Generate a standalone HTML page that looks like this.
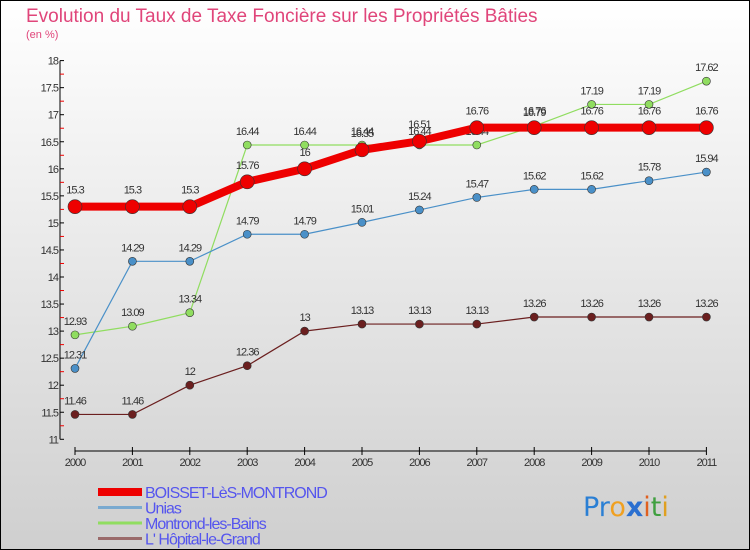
<!DOCTYPE html>
<html><head><meta charset="utf-8"><style>
body{margin:0}
#c{width:750px;height:550px;position:relative;overflow:hidden;font-family:"Liberation Sans",sans-serif;background:linear-gradient(#ffffff,#cfcfcf);box-sizing:border-box;border:1px solid #000}
</style></head><body>
<div id="c">
<svg id="s" width="750" height="550" style="position:absolute;left:-1px;top:-1px">
<text x="26" y="22" font-size="19" fill="#e0457a">Evolution du Taux de Taxe Foncière sur les Propriétés Bâties</text>
<text x="26" y="38" font-size="11" fill="#e0457a">(en %)</text>
<g id="axes"></g><g id="series"></g><g id="legend"></g>
<text x="583" y="516" font-size="27" font-family="'DejaVu Sans',sans-serif"><tspan fill="#2a7fd4">Pr</tspan><tspan fill="#f0a020">o</tspan><tspan fill="#2a6fd0" font-weight="bold">x</tspan><tspan fill="#e06020">i</tspan><tspan fill="#40a040">t</tspan><tspan fill="#e0a020">i</tspan></text>
</svg>
</div>
<script>
const years=[2000,2001,2002,2003,2004,2005,2006,2007,2008,2009,2010,2011];
const boisset=[15.3,15.3,15.3,15.76,16,16.35,16.51,16.76,16.76,16.76,16.76,16.76];
const unias=[12.31,14.29,14.29,14.79,14.79,15.01,15.24,15.47,15.62,15.62,15.78,15.94];
const montrond=[12.93,13.09,13.34,16.44,16.44,16.44,16.44,16.44,16.79,17.19,17.19,17.62];
const hopital=[11.46,11.46,12,12.36,13,13.13,13.13,13.13,13.26,13.26,13.26,13.26];
const yTicks=[11,11.5,12,12.5,13,13.5,14,14.5,15,15.5,16,16.5,17,17.5,18];
const seriesNames=["BOISSET-LèS-MONTROND","Unias","Montrond-les-Bains","L' Hôpital-le-Grand"];
const NS="http://www.w3.org/2000/svg";
const xS=i=>75+i*57.4;
const yS=v=>439.3-(v-11)*54.1;
function mk(p,t,a){const e=document.createElementNS(NS,t);for(const k in a)e.setAttribute(k,a[k]);p.appendChild(e);return e;}
const ax=document.getElementById('axes');
let l=mk(ax,'line',{x1:60,y1:yS(18),x2:60,y2:yS(11),stroke:'#000'});


yTicks.forEach(v=>{
 let t=mk(ax,'line',{x1:60,x2:64,y1:yS(v),y2:yS(v),stroke:'#000'});
 
 
 let m=mk(ax,'line',{x1:60,x2:64,y1:yS(v+0.25),y2:yS(v+0.25),stroke:'#e00'});
 if(v===18)m.remove();
 let tx=mk(ax,'text',{x:58,y:yS(v)+4,'font-size':11,'text-anchor':'end',fill:'#333','letter-spacing':'-1'});
 tx.textContent=String(v);
 
 
});
let xa=mk(ax,'line',{x1:xS(0),x2:xS(11),y1:451,y2:451,stroke:'#000'});


years.forEach((y,i)=>{
 mk(ax,'line',{x1:xS(i),x2:xS(i),y1:447,y2:455,stroke:'#000'});
 let tx=mk(ax,'text',{x:xS(i),y:466,'font-size':11,'text-anchor':'middle',fill:'#333','letter-spacing':'-1'});
 tx.textContent=String(y);
 
 
});
const se=document.getElementById('series');
function draw(vals,color,w,r,name){
 const g=mk(se,'g',{});
 
 
 mk(g,'polyline',{points:vals.map((v,i)=>xS(i)+','+yS(v)).join(' '),fill:'none',stroke:color,'stroke-width':w});
 vals.forEach((v,i)=>{
  let c=mk(g,'circle',{cx:xS(i),cy:yS(v),r:r,fill:color,stroke:'#333','stroke-width':0.6});
  
  
  let t=mk(g,'text',{x:xS(i),y:yS(v)-r-6,'font-size':11,'text-anchor':'middle',fill:'#333','letter-spacing':'-1'});
  t.textContent=String(v);
  
  
 });
}
draw(hopital,'#6b1f1f',1.2,4,'series-hopital');
draw(montrond,'#90dd60',1.2,4,'series-montrond');
draw(unias,'#4a90c8',1.2,4,'series-unias');
draw(boisset,'#ee0000',8,7,'series-boisset');
const lg=document.getElementById('legend');
const lc=['#ee0000','#7aaad0','#90dd60','#9a6a6a'],lw=[8,3,3,3];
seriesNames.forEach((n,i)=>{
 const y=492+i*15.5;
 const g=mk(lg,'g',{});
 
 
 mk(g,'line',{x1:98,x2:142,y1:y,y2:y,stroke:lc[i],'stroke-width':lw[i]});
 const t=mk(g,'text',{x:145,y:y+6,'font-size':16,fill:'#5555ee','letter-spacing':'-1'});
 t.textContent=n;
});
</script>
</body></html>
